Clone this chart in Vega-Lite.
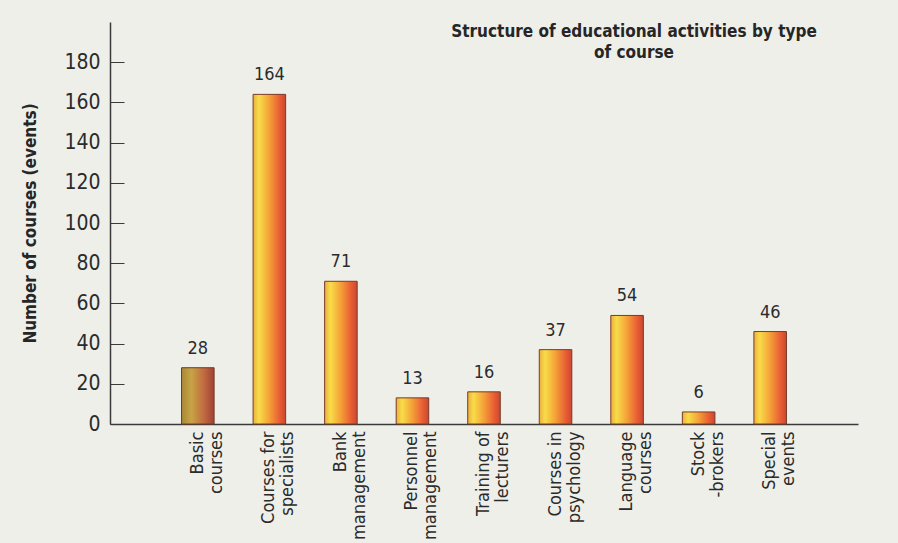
{
  "$schema": "https://vega.github.io/schema/vega-lite/v6.json",
  "width": 748,
  "height": 402,
  "autosize": {"type": "none"},
  "padding": {"left": 110, "top": 22, "right": 40, "bottom": 119},
  "background": "#efefea",
  "config": {"view": {"stroke": null}, "font": "DejaVu Sans Condensed"},
  "title": {
    "text": ["Structure of educational activities by type", "of course"],
    "anchor": "start",
    "frame": "group",
    "align": "center",
    "dx": 524,
    "baseline": "top",
    "offset": 0,
    "dy": 40,
    "fontSize": 17,
    "fontWeight": "bold",
    "font": "DejaVu Sans Condensed",
    "color": "#262626",
    "lineHeight": 21
  },
  "data": {
    "values": [
      {"course": "Basic|courses", "events": 28, "kind": "basic"},
      {"course": "Courses for|specialists", "events": 164, "kind": "other"},
      {"course": "Bank|management", "events": 71, "kind": "other"},
      {"course": "Personnel|management", "events": 13, "kind": "other"},
      {"course": "Training of|lecturers", "events": 16, "kind": "other"},
      {"course": "Courses in|psychology", "events": 37, "kind": "other"},
      {"course": "Language|courses", "events": 54, "kind": "other"},
      {"course": "Stock|-brokers", "events": 6, "kind": "other"},
      {"course": "Special|events", "events": 46, "kind": "other"}
    ]
  },
  "encoding": {
    "x": {
      "field": "course",
      "type": "nominal",
      "sort": ["Basic|courses", "Courses for|specialists", "Bank|management", "Personnel|management", "Training of|lecturers", "Courses in|psychology", "Language|courses", "Stock|-brokers", "Special|events"],
      "scale": {"paddingInner": 0.545, "paddingOuter": 1.08},
      "axis": {
        "title": null,
        "labelExpr": "split(datum.value, '|')",
        "labelAngle": -90,
        "labelAlign": "right",
        "labelBaseline": "middle",
        "labelFontSize": 18,
        "labelLineHeight": 19,
        "labelColor": "#2b2b2b",
        "labelPadding": 7,
        "ticks": false,
        "domainColor": "#3a3a3a",
        "domainWidth": 1.5
      }
    },
    "y": {
      "field": "events",
      "type": "quantitative",
      "scale": {"domain": [0, 200], "nice": false},
      "axis": {
        "values": [0, 20, 40, 60, 80, 100, 120, 140, 160, 180],
        "grid": false,
        "tickSize": -14,
        "labelPadding": 24,
        "domainColor": "#3a3a3a",
        "domainWidth": 1.5,
        "tickColor": "#3a3a3a",
        "labelFontSize": 21,
        "labelColor": "#2b2b2b",
        "title": "Number of courses  (events)",
        "titleFontSize": 17,
        "titleFontWeight": "bold",
        "titleColor": "#262626",
        "titlePadding": 24
      }
    }
  },
  "layer": [
    {
      "transform": [{"filter": "datum.kind === 'other'"}],
      "mark": {
        "type": "bar",
        "stroke": "#7a3a28",
        "strokeWidth": 1,
        "fill": {
          "gradient": "linear",
          "x1": 0, "y1": 0, "x2": 1, "y2": 0,
          "stops": [
            {"offset": 0, "color": "#eab040"},
            {"offset": 0.18, "color": "#f8dc48"},
            {"offset": 0.5, "color": "#f4a038"},
            {"offset": 0.82, "color": "#e85c34"},
            {"offset": 1, "color": "#c84830"}
          ]
        }
      }
    },
    {
      "transform": [{"filter": "datum.kind === 'basic'"}],
      "mark": {
        "type": "bar",
        "stroke": "#6e3a28",
        "strokeWidth": 1,
        "fill": {
          "gradient": "linear",
          "x1": 0, "y1": 0, "x2": 1, "y2": 0,
          "stops": [
            {"offset": 0, "color": "#a88838"},
            {"offset": 0.3, "color": "#c8a444"},
            {"offset": 0.7, "color": "#c06842"},
            {"offset": 1, "color": "#a04232"}
          ]
        }
      }
    },
    {
      "mark": {"type": "text", "baseline": "alphabetic", "dy": -14, "fontSize": 18, "color": "#2b2b2b"},
      "encoding": {"text": {"field": "events", "type": "quantitative"}}
    }
  ]
}
